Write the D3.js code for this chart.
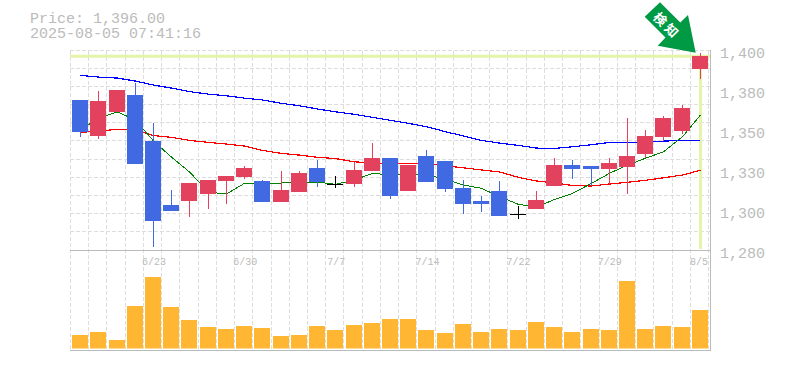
<!DOCTYPE html>
<html>
<head>
<meta charset="utf-8">
<script src="https://cdn.jsdelivr.net/npm/d3@7/dist/d3.min.js"></script>
<style>
    html, body { margin: 0; padding: 0; background: #fff; }
    svg { display: block; }
    text { font-family: "Liberation Mono", monospace; fill: #bbb; }
</style>
</head>
<body>
<div id="chart"></div>
<script>
const dates = ["6/17","6/18","6/19","6/20","6/23","6/24","6/25","6/26","6/27","6/30",
    "7/1","7/2","7/3","7/4","7/7","7/8","7/9","7/10","7/11","7/14",
    "7/15","7/16","7/17","7/18","7/22","7/23","7/24","7/25","7/28","7/29",
    "7/30","7/31","8/1","8/4","8/5"];
const labelDates = ["6/23","6/30","7/7","7/14","7/22","7/29","8/5"];
const priceTicks = [1400,1376,1352,1328,1304,1280];

const opens = [1369.8,1348.2,1362.6,1372.7,1345.2,1306.9,1309.3,1313.5,1321.3,1323.7,
    1321.3,1308.7,1314.7,1329,1319.5,1319.5,1327.3,1335,1315.3,1336.2,
    1333.2,1317.1,1309.3,1315.3,1301.5,1304.5,1318.3,1330.8,1330.2,1328.5,
    1329.6,1337.4,1347.6,1351.2,1388.3];
const highs = [1369.8,1375.1,1375.7,1379.9,1356,1315.9,1320.1,1321.9,1324.3,1330.2,
    1321.9,1327.3,1327.3,1333.8,1324.3,1332.6,1344,1335,1330.8,1339.8,
    1333.2,1321.9,1312.3,1321.3,1306.3,1315.3,1335,1333.8,1330.2,1335,
    1359,1351.8,1360.2,1366.8,1397.9];
const lows = [1347.6,1346.4,1362.6,1331.4,1281.8,1303.3,1299.7,1304.5,1307.5,1322.5,
    1308.7,1308.7,1314.7,1317.7,1317.1,1317.7,1327.3,1310.5,1315.3,1320.7,
    1314.7,1301.5,1302.7,1300.3,1298.5,1304.5,1318.3,1322.5,1318.3,1319.5,
    1313.5,1335,1345.2,1349.4,1382.3];
const closes = [1350.6,1369.2,1375.7,1331.4,1297.3,1303.3,1320.1,1321.9,1324.3,1329,
    1308.7,1315.9,1326.1,1320.7,1319.5,1327.9,1335,1312.3,1330.8,1320.7,
    1316.5,1307.5,1307.5,1300.3,1301.5,1309.9,1330.8,1328.5,1328.5,1332,
    1336.2,1348.2,1359,1365,1396];
const volumes = [13.5,16.5,8.5,42.5,71.5,41.5,28.5,21.5,19.5,22.5,
    20.5,12.5,13.5,22.5,18.5,23.5,25.5,29.5,29.5,18.5,
    15.5,24.5,16.5,19.5,18.5,26.5,21.5,16.5,19.5,18.5,
    67.5,19.5,22.5,21.5,38.5];
const maShort = [1351.8,1359,1362.6,1357.8,1345.2,1335.6,1326.7,1314.7,1313.5,1319.9,
    1319.9,1320.1,1320.5,1320.7,1319.3,1321.9,1325.9,1324.9,1325.2,1325.2,
    1322.2,1318.9,1316.9,1312,1307.3,1305.7,1310.2,1313.9,1319.9,1325.9,
    1330.8,1334.9,1338.8,1347.8,1360.8];
const maMid = [1350.4,1351.2,1352.2,1351.8,1348.5,1347.4,1345.6,1344.4,1343.4,1342.2,
    1339.6,1337.8,1336.8,1335.5,1334.7,1332.8,1332,1331.9,1331.9,1331.9,
    1330.4,1329.2,1327.9,1326.7,1323.5,1321.3,1320.1,1318.6,1318.3,1319.5,
    1320.5,1321.7,1323.2,1324.9,1327.7];
const maLong = [1384.5,1383.5,1382.9,1381.1,1378.7,1376.9,1374.8,1373.3,1372.3,1370.9,
    1369.8,1367.8,1366.3,1364.4,1362.7,1361.2,1359.4,1357.6,1355.8,1353.8,
    1350.8,1348.2,1345.6,1344,1342.6,1341,1340.8,1341.8,1343,1344.4,
    1344.4,1344.6,1345.2,1345.5,1345.6];
const lastPrice = 1396;

const width = 785, height = 370;
const plotLeft = 70, plotRight = 710, plotTop = 51, plotMid = 250, plotBottom = 350;
const barW = 16;

const svg = d3.select("#chart").append("svg")
    .attr("width", width)
    .attr("height", height);

const x = d3.scaleBand().domain(dates).range([71, 709]);
const y = d3.scaleLinear().domain([1280, 1400]).range([250, 49.5]);
const yVol = d3.scaleLinear().domain([0, 100]).range([348.5, 248.5]);
const cx = d => Math.round(x(d) + x.bandwidth() / 2);

// grid
const grid = svg.append("g").attr("stroke", "#ddd").attr("stroke-dasharray", "4,2");
const gridX = dates.map(d => Math.round(x(d)) - 1).concat([708]);
grid.selectAll(".vg").data(gridX).enter().append("line")
    .attr("x1", d => d + 0.5).attr("x2", d => d + 0.5)
    .attr("y1", plotTop).attr("y2", plotBottom);
grid.selectAll(".hg").data(d3.range(0, 11)).enter().append("line")
    .attr("x1", plotLeft).attr("x2", plotRight)
    .attr("y1", d => Math.round(plotTop + d * (plotMid - plotTop) / 11) - 0.5)
    .attr("y2", d => Math.round(plotTop + d * (plotMid - plotTop) / 11) - 0.5);

// pane borders
const frame = svg.append("g").attr("stroke", "#bbb");
frame.append("line").attr("x1", plotLeft).attr("x2", plotRight + 1).attr("y1", plotMid + 0.5).attr("y2", plotMid + 0.5);
frame.append("line").attr("x1", plotLeft).attr("x2", plotRight + 1).attr("y1", plotBottom + 0.5).attr("y2", plotBottom + 0.5);
frame.append("line").attr("x1", plotRight + 0.5).attr("x2", plotRight + 0.5).attr("y1", 50).attr("y2", plotBottom);

// current price marker
svg.append("line")
    .attr("x1", plotLeft).attr("x2", plotRight)
    .attr("y1", y(lastPrice)).attr("y2", y(lastPrice))
    .attr("stroke", "#e4f5a9").attr("stroke-width", 3);
svg.append("line")
    .attr("x1", cx("8/5") + 0.5).attr("x2", cx("8/5") + 0.5)
    .attr("y1", y(lastPrice)).attr("y2", plotMid - 1)
    .attr("stroke", "#e4f5a9").attr("stroke-width", 3);

// volume
svg.selectAll(".vol").data(dates).enter().append("rect")
    .attr("class", "vol")
    .attr("x", d => cx(d) - barW / 2)
    .attr("width", barW)
    .attr("y", (d, i) => yVol(volumes[i]))
    .attr("height", (d, i) => yVol(0) - yVol(volumes[i]))
    .attr("fill", "#ffb733");

// moving averages
const maLine = d3.line().x((v, i) => cx(dates[i]) + 0.5).y(v => y(v));
[[maLong, "#0000ff", 1.2], [maMid, "#ff0000", 1.2], [maShort, "#008000", 1]].forEach(([vals, color, sw]) => {
    svg.append("path")
        .attr("d", maLine(vals))
        .attr("fill", "none")
        .attr("stroke", color)
        .attr("stroke-width", sw)
        .attr("shape-rendering", "crispEdges");
});

// candles
const candleColor = i => closes[i] > opens[i] ? "#e3425f" : closes[i] < opens[i] ? "#4169e1" : "#000";
const candles = svg.selectAll(".candle").data(dates).enter().append("g").attr("class", "candle");
candles.append("rect")
    .attr("x", d => cx(d))
    .attr("width", 1)
    .attr("y", (d, i) => Math.round(y(highs[i])))
    .attr("height", (d, i) => Math.round(y(lows[i])) - Math.round(y(highs[i])))
    .attr("fill", (d, i) => candleColor(i));
candles.append("rect")
    .attr("x", d => cx(d) - barW / 2)
    .attr("width", barW)
    .attr("y", (d, i) => Math.round(y(Math.max(opens[i], closes[i]))))
    .attr("height", (d, i) => Math.max(1, Math.round(y(Math.min(opens[i], closes[i]))) - Math.round(y(Math.max(opens[i], closes[i])))))
    .attr("fill", (d, i) => candleColor(i));

// axes
const yAxis = svg.append("g")
    .attr("transform", `translate(${plotRight},0)`)
    .call(d3.axisRight(y).tickValues(priceTicks).tickSize(0).tickPadding(10)
        .tickFormat(v => d3.format(",")(Math.round(v / 10) * 10)));
yAxis.select(".domain").remove();
yAxis.selectAll("text")
    .attr("dy", "0.5em")
    .style("font-size", "15px")
    .style("font-family", '"Liberation Mono", monospace')
    .attr("fill", "#bbb");

const xAxis = svg.append("g")
    .attr("transform", `translate(1,${plotMid + 5})`)
    .call(d3.axisBottom(x).tickValues(labelDates).tickSize(0).tickPadding(3));
xAxis.select(".domain").remove();
xAxis.selectAll("text")
    .style("font-size", "10px")
    .style("font-family", '"Liberation Mono", monospace')
    .attr("fill", "#bbb");
// last label sits a little further in
xAxis.selectAll("text").filter(d => d === "8/5").attr("dx", -2);

// header
svg.append("text").attr("x", 30).attr("y", 23).attr("font-size", "15px").text("Price: 1,396.00");
svg.append("text").attr("x", 30).attr("y", 38).attr("font-size", "15px").text("2025-08-05 07:41:16");

// arrow
const arrow = [[660, 2.3], [680.3, 22.6], [688, 15], [695.7, 52.7], [657.7, 45.7], [665.5, 37.5], [644.7, 16.7]];
svg.append("path")
    .attr("d", d3.line()(arrow) + "Z")
    .attr("fill", "#009944");
svg.append("text")
    .attr("transform", "translate(667.5,25.3) rotate(45)")
    .attr("text-anchor", "middle")
    .attr("dominant-baseline", "central")
    .attr("font-size", "13px")
    .attr("font-weight", "bold")
    .attr("letter-spacing", "3px")
    .style("font-family", '"Noto Sans CJK JP", sans-serif')
    .style("fill", "#fff")
    .text("検知");
</script>
</body>
</html>
